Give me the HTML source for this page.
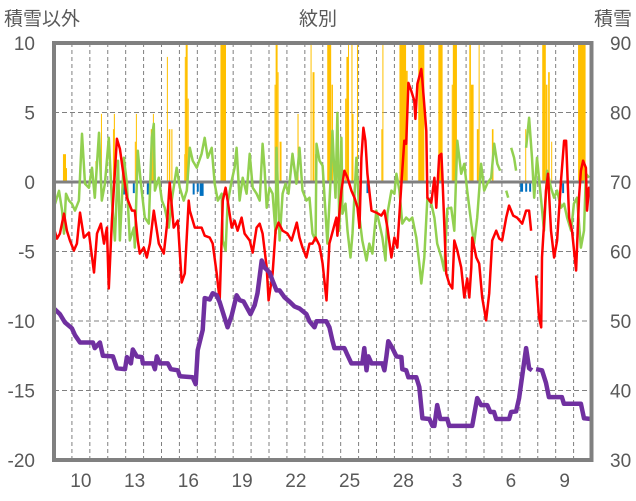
<!DOCTYPE html>
<html><head><meta charset="utf-8">
<style>
html,body{margin:0;padding:0;background:#fff;}
svg{display:block;font-family:"Liberation Sans","Noto Sans CJK JP",sans-serif;}
</style></head>
<body>
<svg id="chart" width="636" height="501" viewBox="0 0 636 501" xmlns="http://www.w3.org/2000/svg">
<rect x="0" y="0" width="636" height="501" fill="#fff"/>
<text x="4" y="25" font-size="19" fill="#595959">積雪以外</text>
<text x="318" y="25" font-size="19" fill="#595959" text-anchor="middle">紋別</text>
<text x="632" y="25" font-size="19" fill="#595959" text-anchor="end">積雪</text>
<g id="grid"></g>
<g id="bars"></g>
<g id="lines"></g>
<g id="axes"></g>
</svg>
<script>
const leftTicks = [10, 5, 0, -5, -10, -15, -20];
const rightTicks = [90, 80, 70, 60, 50, 40, 30];
const xTickDays = [1, 4, 7, 10, 13, 16, 19, 22, 25, 28];
const xTickLabels = ["10", "13", "16", "19", "22", "25", "28", "3", "6", "9"];

const redT = [0,0.17,0.33,0.56,0.72,0.89,1.11,1.28,1.45,1.67,1.95,2.23,2.4,2.62,2.79,2.95,3.06,3.23,3.51,3.68,3.9,4.07,4.35,4.51,4.68,4.79,5.01,5.18,5.35,5.57,5.85,6.13,6.3,6.46,6.68,6.91,7.13,7.3,7.52,7.58,7.86,8.24,8.41,8.69,8.86,9.08,9.25,9.42,9.58,9.69,9.92,10.08,10.25,10.47,10.64,10.92,11.09,11.31,11.48,11.64,11.87,11.98,12.2,12.37,12.53,12.76,13.03,13.26,13.55,13.7,13.87,14.09,14.26,14.43,14.6,14.82,14.99,15.21,15.37,15.76,15.82,16.04,16.21,16.38,16.6,16.77,16.94,17.05,17.16,17.27,17.38,17.49,17.72,17.99,18.27,18.44,18.61,18.83,19,19.16,19.39,19.55,19.66,19.78,19.94,20.11,20.17,20.28,20.5,20.56,20.78,20.84,21.06,21.23,21.34,21.5,21.62,21.67,21.89,22.06,22.23,22.34,22.51,22.73,22.9,23.06,23.18,23.29,23.34,23.57,23.73,23.9,24.12,24.29,24.46,24.68,24.85,25.01,25.24,25.4,25.63,25.84,26.13,26.35,26.52,26.63,26.8,26.91,27.07,27.19,27.24,27.46,27.57,27.74,27.91,28.08,28.3,28.47,28.58,28.75,28.91,29.14,29.3,29.41,29.53,29.69,29.75,29.86,29.97];
const redV = [-3.35,-4.07,-3.71,-2.28,-3.5,-4.21,-4.93,-4.43,-2.2,-4.0,-3.64,-6.51,-3.71,-3.0,-4.43,-3.28,-7.66,-2.78,3.11,2.39,0.31,-1.13,-2.06,-2.06,-4.21,-5.15,-4.72,-5.43,-4.43,-2.06,-4.43,-5.15,-3.14,-0.05,-3.28,-2.78,-7.23,-6.58,-1.34,-2.06,-3.28,-3.28,-3.86,-4.0,-4.43,-6.58,-8.52,-1.34,-0.41,-1.34,-3.28,-2.78,-3.5,-2.56,-3.71,-4.21,-5.08,-3.28,-3.0,-3.71,-6.15,-8.52,-6.58,-3.5,-2.92,-3.5,-3.71,-4.21,-2.92,-4.0,-4.72,-5.43,-4.43,-4.43,-4.0,-4.57,-5.87,-8.52,-4.43,-2.56,-3.86,-0.62,0.81,0.31,-0.62,-1.13,-1.85,-3.28,1.74,3.9,2.97,0.6,-2.06,-2.2,-2.42,-2.06,-3.28,-5.43,-4.0,-4.72,-0.12,2.97,2.75,7.13,6.55,5.84,4.54,7.06,8.13,7.27,3.68,-1.13,-1.49,0.31,-1.85,1.89,2.03,0.6,-6.58,-7.3,-7.66,-4.21,-4.93,-6.15,-8.31,-6.94,-8.31,-6.15,-4.0,-5.43,-5.87,-8.31,-9.96,-8.02,-4.21,-3.5,-4.07,-4.21,-2.56,-1.7,-2.42,-2.56,-3.0,-2.06,-2.06,-3.5,null,-6.73,-9.74,-10.46,-5.43,-0.62,0.6,-3.5,-5.43,-4.21,0.09,2.97,2.97,-2.56,-3.5,-6.37,-1.13,0.81,1.53,1.02,-2.06,-0.41,-0.83];

const greenT = [0,0.06,0.28,0.45,0.56,0.67,0.84,1,1.17,1.39,1.56,1.73,1.95,2.12,2.28,2.51,2.67,2.84,3.06,3.23,3.4,3.57,3.68,3.9,4.07,4.23,4.46,4.51,4.68,4.85,5.07,5.29,5.46,5.57,5.63,5.85,6.02,6.18,6.41,6.57,6.85,7.02,7.24,7.41,7.58,7.74,7.97,8.24,8.41,8.58,8.8,8.97,9.14,9.36,9.42,9.58,9.69,9.92,10.08,10.19,10.36,10.53,10.75,10.92,11.09,11.31,11.48,11.64,11.75,11.87,12.03,12.2,12.37,12.42,12.59,12.76,12.92,13.09,13.31,13.53,13.7,13.87,14.09,14.26,14.43,14.6,14.65,14.82,14.99,15.26,15.43,15.54,15.71,15.82,15.93,16.04,16.1,16.27,16.38,16.55,16.66,16.88,17.05,17.21,17.44,17.6,17.77,17.99,18.16,18.33,18.5,18.61,18.83,19,19.11,19.28,19.44,19.66,19.83,20,20.22,20.39,20.5,20.67,20.84,21.06,21.23,21.39,21.62,21.78,21.95,22.17,22.34,22.51,22.73,22.9,23.06,23.29,23.45,23.62,23.84,24.01,24.18,24.4,24.57,24.74,24.9,25.1,25.24,25.35,25.45,25.52,25.68,25.79,26.1,26.35,26.52,26.68,26.8,26.96,27.19,27.35,27.52,27.74,27.91,28.08,28.3,28.47,28.64,28.86,29.02,29.19,29.41,29.58,29.69,29.86];
const greenV = [-0.84,-1.56,-0.63,-2.06,-3.71,-0.84,-1.34,-1.56,-2.06,-1.34,3.47,-0.12,-0.41,1.03,-1.13,3.54,-1.34,-0.12,3.18,-1.34,-4.21,1.53,-4.21,1.74,-0.12,-4.21,-3.28,-4.72,2.25,-0.12,-2.56,-2.99,3.18,4.19,-0.62,0.31,-1.34,-1.85,-3.28,-1.34,1.03,-0.41,-1.34,-0.62,2.46,1.53,1.03,2.03,3.18,1.74,2.46,-0.12,-1.34,-0.84,-4.21,-4.93,-1.56,0.09,1.03,2.46,-1.34,0.31,-0.84,2.03,-0.41,-0.84,-1.34,2.75,1.03,-1.85,-0.41,-0.84,-3.71,2.46,-4.21,-0.84,-0.12,-0.84,2.03,-0.12,2.46,-0.62,-1.34,-1.13,-3.71,-4.21,2.75,1.53,1.17,-4.43,0.09,3.68,-1.13,4.97,-3.5,3.18,-2.28,-1.56,-3.5,-5.43,-3.71,1.74,-2.56,-4.21,-5.65,-4.43,-5.15,-2.06,-2.99,-4.0,-5.65,-2.28,-0.62,-0.84,0.6,-0.62,-2.99,-2.56,-2.78,-2.56,-4.0,-5.87,-7.3,-5.43,-1.13,-1.56,-2.56,-4.43,-5.43,-6.37,-1.92,-1.85,-3.5,2.97,0.6,1.31,-0.62,-2.99,-4.43,-2.56,1.31,-0.62,-0.12,0.31,2.75,1.31,0.81,null,-0.62,-1.13,null,2.46,1.74,0.81,null,2.46,4.62,1.74,-1.13,1.74,-1.34,-3.5,0.81,-0.41,-1.13,-0.62,-1.85,-1.56,-2.56,-3.5,-1.56,-1.13,-4.72,-3.5,0.6,0.31];

const snowT = [0,0.33,0.61,1,1.17,1.45,2.17,2.28,2.56,2.73,3.29,3.51,3.96,4.07,4.29,4.4,4.62,4.9,4.96,5.52,5.63,5.74,5.91,6.35,6.52,6.91,7.02,7.74,7.91,8.02,8.3,8.41,8.69,8.86,9.08,9.25,9.53,9.69,9.92,10.19,10.36,10.58,10.75,10.97,11.2,11.36,11.59,11.75,12.03,12.2,12.42,12.59,12.87,13.14,13.42,13.7,14.09,14.26,14.54,14.65,15.2,15.37,15.54,15.65,16.21,16.38,16.6,17.21,17.32,17.44,17.55,17.72,18.33,18.44,18.55,18.66,18.89,19.11,19.39,19.44,19.66,19.78,20.22,20.39,20.56,20.95,21.12,21.23,21.39,21.56,21.95,22.06,23.34,23.62,23.84,24.18,24.35,24.56,24.68,25.4,25.51,25.79,25.96,26.35,26.52,26.68,26.8,26.91,27.24,27.46,27.62,28.35,28.46,29.41,29.58,29.97];
const snowV = [51.8,51.0,49.8,48.95,47.95,46.9,46.9,46.1,46.9,45.0,44.9,43.2,43.07,44.8,43.9,45.9,44.9,44.8,43.9,43.9,43.07,44.9,43.9,43.9,43.07,42.9,42.06,41.9,40.9,45.8,48.7,53.3,53.1,54.0,53.7,52.7,50.4,49.1,50.8,53.7,53.0,52.8,52.0,51.0,52.3,54.0,58.7,57.7,57.0,55.8,54.4,54.4,53.4,52.8,52.1,51.8,51.0,49.96,49.1,49.96,49.96,49.1,47.2,46.1,46.1,45.1,43.9,43.9,46.1,42.9,44.9,43.9,43.9,42.9,44.9,47.1,46.1,44.9,44.8,43.07,42.9,41.9,41.9,40.5,36.0,35.9,34.9,34.9,37.9,35.9,35.9,34.9,34.9,38.9,37.9,37.9,36.9,36.9,35.9,35.9,36.9,37.0,38.9,46.1,43.2,42.9,null,43.07,42.9,41.1,39.05,39.05,38.1,38.1,36.0,35.9];

const precipStart = [0.5,0.67,2.31,2.62,3.29,3.34,4.51,4.57,5.4,5.52,6.3,6.41,6.55,7.27,7.3,7.35,7.46,9.29,12.31,12.37,12.48,12.59,13.59,14.32,14.43,14.57,15.25,15.49,16.25,16.32,16.41,16.6,16.66,16.91,18.27,18.33,19.28,19.65,20.33,21.45,22.2,22.26,23.18,23.27,23.6,23.7,24.44,26.3,27.25,27.45,27.58,27.75,29.25];
const precipEnd   = [0.67,0.72,2.37,2.67,3.34,3.4,4.57,4.62,5.52,5.57,6.35,6.49,6.61,7.3,7.35,7.46,7.52,9.6,12.37,12.48,12.53,12.7,13.65,14.37,14.54,14.62,15.47,15.57,16.32,16.41,16.46,16.66,16.71,16.97,18.33,18.38,19.65,19.74,20.67,21.69,22.26,22.49,23.27,23.42,23.7,23.74,24.53,26.35,27.45,27.54,27.67,27.8,29.67];
const precipV     = [2.0,1.0,1.5,4.9,3.8,4.9,2.9,4.9,3.8,4.9,9.0,3.8,3.8,2.0,9.0,10.5,6.0,10.5,7.0,10.5,7.9,2.9,4.9,10.5,7.9,2.0,10.5,7.0,6.0,9.0,10.5,10.5,4.9,10.5,3.8,10.5,10.5,8.0,10.5,10.5,7.0,10.5,10.5,7.0,3.8,10.5,3.8,3.8,10.5,7.0,7.9,2.9,10.5];

const negStart = [0,3.85,4.4,5.18,7.74,7.97,8.13,17.44,26.02,26.3,26.52,28.36];
const negEnd   = [0.11,3.96,4.51,5.35,7.85,8.08,8.35,17.55,26.18,26.41,26.63,28.47];
const negV     = [-0.8,-0.9,-0.8,-0.9,-0.9,-0.7,-1.0,-0.8,-0.7,-0.7,-0.7,-0.8];

const X0 = 54, X1 = 591.5, Y0 = 43, Y1 = 460, DAYS = 30;
const NS = "http://www.w3.org/2000/svg";
function xs(t){ return X0 + t * (X1 - X0) / DAYS; }
function yl(v){ return Y0 + (10 - v) * (Y1 - Y0) / 30; }
function yr(v){ return Y0 + (90 - v) * (Y1 - Y0) / 60; }
function mk(tag, attrs, parent){
  const e = document.createElementNS(NS, tag);
  for (const k in attrs) e.setAttribute(k, attrs[k]);
  parent.appendChild(e);
  return e;
}
const grid = document.getElementById('grid');
const bars = document.getElementById('bars');
const lines = document.getElementById('lines');
const axes = document.getElementById('axes');

for (let d = 1; d < DAYS; d++) {
  const l = mk('line', {x1: xs(d), x2: xs(d), y1: Y0, y2: Y1, stroke: '#808080', 'stroke-width': 1, 'stroke-dasharray': '4,3'}, grid);
  
  
}
leftTicks.forEach(v => {
  if (v === 10 || v === -20 || v === 0) return;
  const l = mk('line', {x1: X0, x2: X1, y1: yl(v), y2: yl(v), stroke: '#808080', 'stroke-width': 1, 'stroke-dasharray': '5,3'}, grid);
  
  
});

for (let i = 0; i < precipStart.length; i++) {
  const v = Math.min(precipV[i], 10);
  const r = mk('rect', {x: xs(precipStart[i]), y: yl(v), width: Math.max(1, xs(precipEnd[i]) - xs(precipStart[i])), height: yl(0) - yl(v), fill: '#ffc000'}, bars);
  
  
}
for (let i = 0; i < negStart.length; i++) {
  const r = mk('rect', {x: xs(negStart[i]), y: yl(0), width: Math.max(1, xs(negEnd[i]) - xs(negStart[i])), height: yl(negV[i]) - yl(0), fill: '#0070c0'}, bars);
  
  
}

const zl = mk('line', {x1: X0, x2: X1, y1: yl(0), y2: yl(0), stroke: '#808080', 'stroke-width': 3}, lines);



function pathFrom(T, V, yf){
  let d = '', pen = false;
  for (let i = 0; i < T.length; i++) {
    if (V[i] === null) { pen = false; continue; }
    d += (pen ? 'L' : 'M') + xs(T[i]).toFixed(1) + ',' + yf(V[i]).toFixed(1);
    pen = true;
  }
  return d;
}
const g = mk('path', {d: pathFrom(greenT, greenV, yl), fill: 'none', stroke: '#92d050', 'stroke-width': 2.5, 'stroke-linejoin': 'round'}, lines);


const r = mk('path', {d: pathFrom(redT, redV, yl), fill: 'none', stroke: '#ff0000', 'stroke-width': 2.5, 'stroke-linejoin': 'round'}, lines);


const p = mk('path', {d: pathFrom(snowT, snowV, yr), fill: 'none', stroke: '#7030a0', 'stroke-width': 4.5, 'stroke-linejoin': 'round'}, lines);



const fr = mk('rect', {x: X0, y: Y0, width: X1 - X0, height: Y1 - Y0, fill: 'none', stroke: '#808080', 'stroke-width': 4}, axes);



leftTicks.forEach(v => {
  const t = mk('text', {x: 35, y: yl(v) + 7, 'font-size': 19, fill: '#595959', 'text-anchor': 'end'}, axes);
  t.textContent = String(v);
  
  
});
rightTicks.forEach(v => {
  const t = mk('text', {x: 610, y: yr(v) + 7, 'font-size': 19, fill: '#595959'}, axes);
  t.textContent = String(v);
  
  
});
xTickDays.forEach((d, i) => {
  const t = mk('text', {x: xs(d + 0.5), y: 487, 'font-size': 19, fill: '#595959', 'text-anchor': 'middle'}, axes);
  t.textContent = xTickLabels[i];
  
  
});
</script>
</body></html>
